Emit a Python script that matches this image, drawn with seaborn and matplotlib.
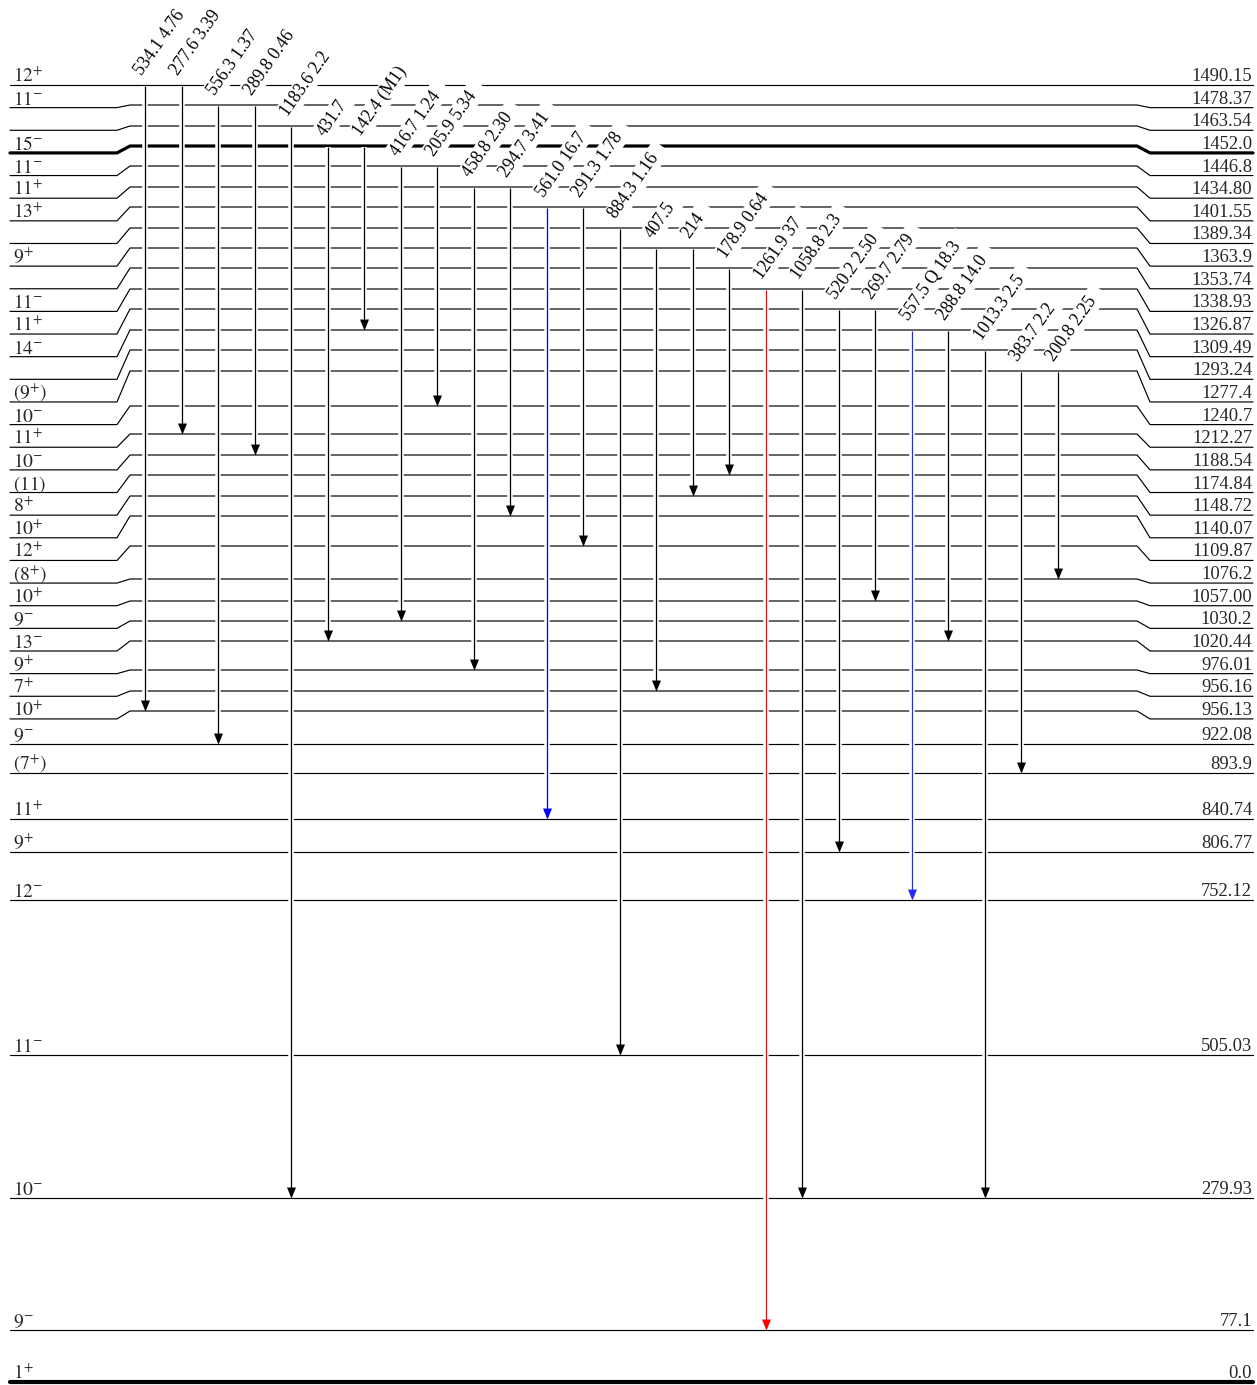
import numpy as np
import pandas as pd
import matplotlib
matplotlib.use("Agg")
import matplotlib.pyplot as plt
import seaborn as sns
from matplotlib import patheffects as pe

# ---------------- data ----------------
level_energy = ["1490.15", "1478.37", "1463.54", "1452.0", "1446.8", "1434.80", "1401.55",
                "1389.34", "1363.9", "1353.74", "1338.93", "1326.87", "1309.49", "1293.24",
                "1277.4", "1240.7", "1212.27", "1188.54", "1174.84", "1148.72", "1140.07",
                "1109.87", "1076.2", "1057.00", "1030.2", "1020.44", "976.01", "956.16",
                "956.13", "922.08", "893.9", "840.74", "806.77", "752.12", "505.03",
                "279.93", "77.1", "0.0"]
level_spin = ["12+", "11-", "", "15-", "11-", "11+", "13+", "", "9+", "", "11-", "11+", "14-", "",
              "(9+)", "10-", "11+", "10-", "(11)", "8+", "10+", "12+", "(8+)", "10+", "9-", "13-",
              "9+", "7+", "10+", "9-", "(7+)", "11+", "9+", "12-", "11-", "10-", "9-", "1+"]
thick_levels = ["1452.0", "0.0"]

gamma_energy = ["534.1", "277.6", "556.3", "289.8", "1183.6", "431.7", "142.4", "416.7", "205.9",
                "458.8", "294.7", "561.0", "291.3", "884.3", "407.5", "214", "178.9", "1261.9",
                "1058.8", "520.2", "269.7", "557.5", "288.8", "1013.3", "383.7", "200.8"]
gamma_note = ["4.76", "3.39", "1.37", "0.46", "2.2", "", "(M1)", "1.24", "5.34",
              "2.30", "3.41", "16.7", "1.78", "1.16", "", "", "0.64", "37",
              "2.3", "2.50", "2.79", "Q 18.3", "14.0", "2.5", "2.2", "2.25"]
gamma_from = ["1490.15", "1490.15", "1478.37", "1478.37", "1463.54", "1452.0", "1452.0", "1446.8",
              "1446.8", "1434.80", "1434.80", "1401.55", "1401.55", "1389.34", "1363.9", "1363.9",
              "1353.74", "1338.93", "1338.93", "1326.87", "1326.87", "1309.49", "1309.49",
              "1293.24", "1277.4", "1277.4"]
gamma_to = ["956.13", "1212.27", "922.08", "1188.54", "279.93", "1020.44", "1309.49", "1030.2",
            "1240.7", "976.01", "1140.07", "840.74", "1109.87", "505.03", "956.16", "1148.72",
            "1174.84", "77.1", "279.93", "806.77", "1057.00", "752.12", "1020.44", "279.93",
            "893.9", "1076.2"]
gamma_color = {"561.0": "#0000ff", "557.5": "#2a2aff", "1261.9": "#ff0000"}

# ---------------- layout (drawing positions, not data) ----------------
W, H = 1257, 1385
mid_pos = [85, 105, 126, 146, 166, 187, 207, 228, 248, 268, 289, 309, 330, 350, 371, 406, 434,
           455, 475, 496, 516, 546, 579, 601, 621, 641, 670, 691, 711, 744, 773, 819, 852, 900,
           1055, 1198, 1330, 1382]
n_band = 29
side_pos = [85 + 22.64 * i if i < n_band else mid_pos[i] for i in range(len(mid_pos))]
XL0, XL1, XM0, XM1, XR0, XR1 = 10, 117, 130, 1137, 1150, 1253
X_FIRST, X_STEP = 145, 36.5

mid = dict(zip(level_energy, mid_pos))
side = dict(zip(level_energy, side_pos))

# ---------------- style ----------------
sns.set_theme(style="white")
plt.rcParams["font.family"] = ["Liberation Serif", "DejaVu Serif"]
plt.rcParams["mathtext.fontset"] = "stix"

fig = plt.figure(figsize=(W / 100, H / 100), dpi=100)
ax = fig.add_axes([0, 0, 1, 1])
ax.set_xlim(0, W)
ax.set_ylim(H, 0)
ax.axis("off")

# level polylines
rows = []
for e in level_energy:
    ym, ys = mid[e], side[e]
    if abs(ym - ys) < 0.5:
        pts = [(XL0, ys), (XR1, ys)]
    else:
        pts = [(XL0, ys), (XL1, ys), (XM0, ym), (XM1, ym), (XR0, ys), (XR1, ys)]
    for k, (x, y) in enumerate(pts):
        rows.append({"level": e, "order": k, "x": x, "y": y,
                     "thick": e in thick_levels})
lev = pd.DataFrame(rows)
thin = lev[~lev.thick]
sns.lineplot(data=thin, x="x", y="y", units="level", estimator=None, sort=False,
             color="black", linewidth=0.85, legend=False, ax=ax, zorder=1)
for e, lw in zip(thick_levels, [2.3, 3.0]):
    sub = lev[lev.level == e]
    sns.lineplot(data=sub, x="x", y="y", units="level", estimator=None, sort=False,
                 color="black", linewidth=lw, legend=False, ax=ax, zorder=1)
ax.set_xlim(0, W)
ax.set_ylim(H, 0)


def spin_tex(s):
    if not s:
        return ""
    par = s.startswith("(")
    core = s.strip("()")
    if core[-1] in "+-":
        t = core[:-1] + "^{" + core[-1] + "}"
    else:
        t = core
    if par:
        t = "(" + t + ")"
    return "$" + t + "$"


for e, s in zip(level_energy, level_spin):
    ys = side[e]
    if s:
        ax.text(13, ys - 3, spin_tex(s), fontsize=14, ha="left", va="baseline", zorder=6)
    ax.text(1252, ys - 4, e, fontsize=13.3, ha="right", va="baseline", zorder=6)

# transitions
stroke = [pe.Stroke(linewidth=4.0, foreground="white"), pe.Normal()]
tri = [(0, 0), (-4.5, 11), (4.5, 11), (0, 0)]
for i, (eg, note, fr, to) in enumerate(zip(gamma_energy, gamma_note, gamma_from, gamma_to)):
    x = X_FIRST + X_STEP * i
    y0, y1 = mid[fr], mid[to]
    col = gamma_color.get(eg, "black")
    ax.plot([x, x], [y0 + 0.6, y1 - 2], color=col, lw=0.9, solid_capstyle="butt",
            path_effects=stroke, zorder=2)
    ax.plot([x], [y1], marker=tri, markersize=15.8, color=col, markeredgewidth=0,
            linestyle="none", zorder=3)
    lab = eg + (" " + note if note else "")
    tx, ty = x - 3, y0 - 9
    ax.text(tx, ty, lab + "0", fontsize=12.7, color="white", rotation=55,
            rotation_mode="anchor", ha="left", va="baseline", zorder=4,
            bbox=dict(boxstyle="square,pad=0.12", fc="white", ec="none"))
    ax.text(tx, ty, lab, fontsize=12.7, color="black", rotation=55,
            rotation_mode="anchor", ha="left", va="baseline", zorder=5)

fig.savefig("out.png", dpi=100, facecolor="white")
